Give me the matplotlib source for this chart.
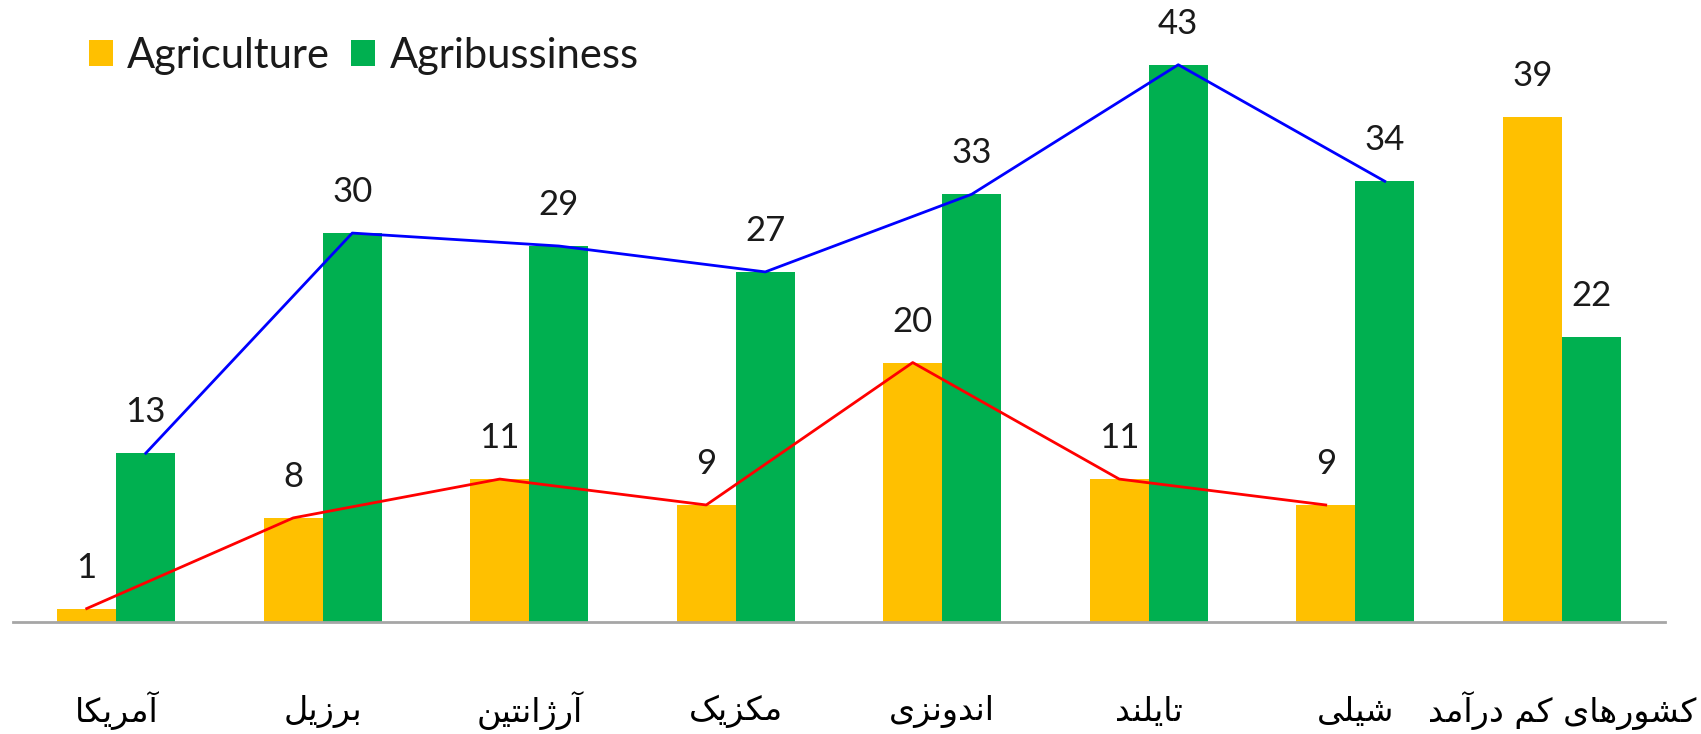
import matplotlib
matplotlib.use("Agg")
import matplotlib.pyplot as plt
from matplotlib.patches import Patch
from matplotlib.transforms import blended_transform_factory
import numpy as np

# ---------------- data ----------------
categories = ["آمریکا", "برزیل", "آرژانتین", "مکزیک", "اندونزی", "تایلند", "شیلی", "کشورهای کم درآمد"]
agriculture = [1, 8, 11, 9, 20, 11, 9, 39]
agribusiness = [13, 30, 29, 27, 33, 43, 34, 22]
series_names = ["Agriculture", "Agribussiness"]
n_line = 7  # trend lines cover the first seven countries

# ---------------- minimal Arabic/Persian shaping ----------------
FORMS = {
    '\u0622': ('\uFE81', '\uFE82', None, None),
    '\u0627': ('\uFE8D', '\uFE8E', None, None),
    '\u0628': ('\uFE8F', '\uFE90', '\uFE91', '\uFE92'),
    '\u062A': ('\uFE95', '\uFE96', '\uFE97', '\uFE98'),
    '\u062F': ('\uFEA9', '\uFEAA', None, None),
    '\u0631': ('\uFEAD', '\uFEAE', None, None),
    '\u0632': ('\uFEAF', '\uFEB0', None, None),
    '\u0698': ('\uFB8A', '\uFB8B', None, None),
    '\u0634': ('\uFEB5', '\uFEB6', '\uFEB7', '\uFEB8'),
    '\u0644': ('\uFEDD', '\uFEDE', '\uFEDF', '\uFEE0'),
    '\u0645': ('\uFEE1', '\uFEE2', '\uFEE3', '\uFEE4'),
    '\u0646': ('\uFEE5', '\uFEE6', '\uFEE7', '\uFEE8'),
    '\u0647': ('\uFEE9', '\uFEEA', '\uFEEB', '\uFEEC'),
    '\u0648': ('\uFEED', '\uFEEE', None, None),
    '\u06CC': ('\uFBFC', '\uFBFD', '\uFBFE', '\uFBFF'),
    '\u06A9': ('\uFB8E', '\uFB8F', '\uFB90', '\uFB91'),
}


def shape_rtl(s):
    out = []
    n = len(s)
    for i, c in enumerate(s):
        if c not in FORMS:
            out.append(c)
            continue
        f = FORMS[c]
        prev_j = i > 0 and s[i - 1] in FORMS and FORMS[s[i - 1]][2] is not None
        next_j = i < n - 1 and s[i + 1] in FORMS and f[2] is not None
        if prev_j and next_j:
            out.append(f[3])
        elif prev_j:
            out.append(f[1])
        elif next_j:
            out.append(f[2])
        else:
            out.append(f[0])
    return "".join(out)[::-1]


# ---------------- figure ----------------
W, H = 1701, 734
fig = plt.figure(figsize=(W / 100, H / 100), dpi=100)
base_px = 621.5
ax = fig.add_axes([13 / W, (H - base_px) / H, 1652 / W, base_px / H])

YEL = "#FFC000"
GRN = "#00B050"
x = np.arange(len(categories))
bw = 0.286

ax.bar(x - bw / 2, agriculture, width=bw, color=YEL, zorder=2)
ax.bar(x + bw / 2, agribusiness, width=bw, color=GRN, zorder=2)

ax.plot(x[:n_line] - bw / 2, agriculture[:n_line], color="#FF0000", lw=2, zorder=3)
ax.plot(x[:n_line] + bw / 2, agribusiness[:n_line], color="#0000FF", lw=2, zorder=3)

num_font = dict(family=["Lato", "DejaVu Sans"], fontsize=25, color="#1a1a1a")
for xi, v in zip(x - bw / 2, agriculture):
    ax.annotate(str(v), (xi, v), xytext=(0, 18), textcoords="offset points",
                ha="center", va="bottom", **num_font)
for xi, v in zip(x + bw / 2, agribusiness):
    ax.annotate(str(v), (xi, v), xytext=(0, 18), textcoords="offset points",
                ha="center", va="bottom", **num_font)

ax.set_xlim(-0.5, len(categories) - 0.5)
ax.set_ylim(0, 48)
for s in ["left", "right", "top"]:
    ax.spines[s].set_visible(False)
ax.spines["bottom"].set_color("#A6A6A6")
ax.spines["bottom"].set_linewidth(2)
ax.set_yticks([])
ax.set_xticks([])

trans = blended_transform_factory(ax.transData, fig.transFigure)
for xi, lab in zip(x, categories):
    ax.text(xi, (H - 711) / H, shape_rtl(lab), transform=trans, ha="center", va="center",
            fontsize=24, family=["DejaVu Sans"], color="black", clip_on=False)

handles = [Patch(facecolor=YEL, edgecolor="none"), Patch(facecolor=GRN, edgecolor="none")]
leg = fig.legend(handles, series_names, loc="center left",
                 bbox_to_anchor=(51 / W, (H - 56) / H), ncol=2, frameon=False,
                 handlelength=0.58, handleheight=0.58, handletextpad=0.35,
                 columnspacing=0.5, prop=dict(family="Lato", size=30))
for t in leg.get_texts():
    t.set_color("#1a1a1a")

fig.savefig("out.png", dpi=100)
